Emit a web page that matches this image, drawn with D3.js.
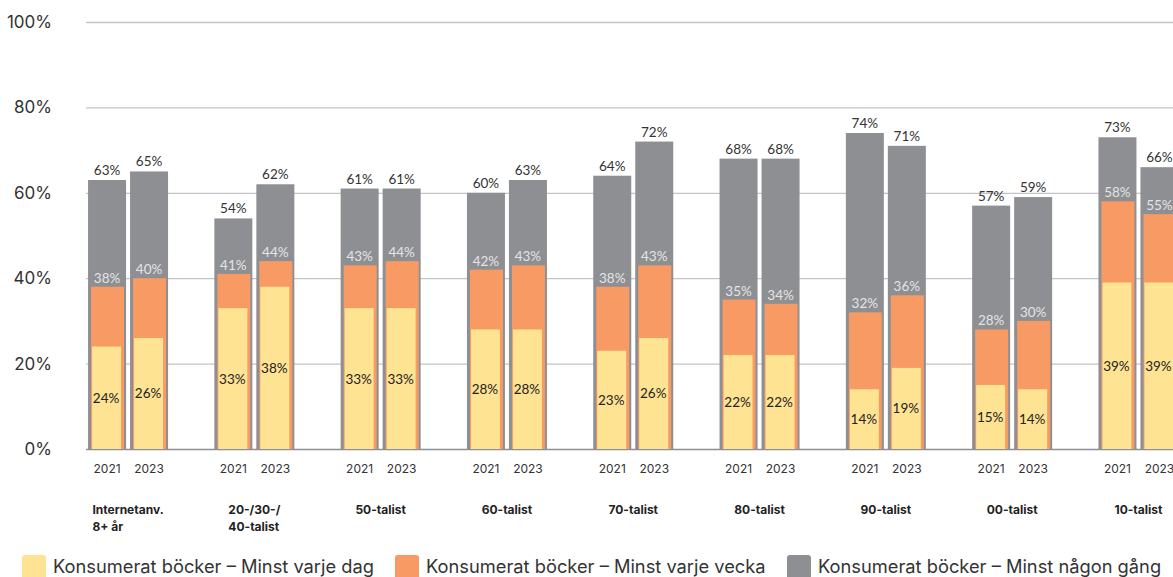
<!DOCTYPE html>
<html><head><meta charset="utf-8">
<script src="https://cdn.jsdelivr.net/npm/d3@7/dist/d3.min.js"></script>
<style>
body{margin:0;background:#fff;}
svg{display:block;font-family:"Lato","Open Sans",sans-serif;}
</style></head>
<body><svg id="c" width="1173" height="577"></svg>
<script>
const groups = ["Internetanv.|8+ år","20-/30-/|40-talist","50-talist","60-talist","70-talist","80-talist","90-talist","00-talist","10-talist"];
const years = ["2021","2023"];
const nagon2021 = [63,54,61,60,64,68,74,57,73];
const nagon2023 = [65,62,61,63,72,68,71,59,66];
const vecka2021 = [38,41,43,42,38,35,32,28,58];
const vecka2023 = [40,44,44,43,43,34,36,30,55];
const dag2021 = [24,33,33,28,23,22,14,15,39];
const dag2023 = [26,38,33,28,26,22,19,14,39];
const yTicks = [0,20,40,60,80,100];
const legendLabels = ["Konsumerat böcker – Minst varje dag","Konsumerat böcker – Minst varje vecka","Konsumerat böcker – Minst någon gång"];
const colors = {dag:"#fee392", vecka:"#f79a63", nagon:"#8d8f93"};

const svg = d3.select("#c");
const y = d3.scaleLinear().domain([0,100]).range([449,22]);
const x0 = d3.scaleBand().domain(groups).range([64.9, 64.9+9*126.3]).padding(0);
const x1 = d3.scaleBand().domain(years).range([x0.bandwidth()/2-40, x0.bandwidth()/2+40]).paddingInner(0.0952).paddingOuter(0);

// gridlines
svg.append("g").selectAll("line").data(yTicks).join("line")
  .attr("x1",86).attr("x2",1173)
  .attr("y1",d=>y(d)+0.5).attr("y2",d=>y(d)+0.5)
  .attr("stroke",d=>d===0?"#8d8f93":"#c4c4c8").attr("stroke-width",d=>d===0?1.5:1.3);
svg.append("g").selectAll("text").data(yTicks).join("text")
  .attr("x",52).attr("y",d=>y(d)+6).attr("text-anchor","end")
  .attr("font-size",17).attr("fill","#333").attr("font-family","Inter, sans-serif")
  .text(d=>d+"%");

const rows = [];
groups.forEach((g,i)=>{
  rows.push({g,yr:"2021",n:nagon2021[i],v:vecka2021[i],d:dag2021[i]});
  rows.push({g,yr:"2023",n:nagon2023[i],v:vecka2023[i],d:dag2023[i]});
});
const bx = r => x0(r.g)+x1(r.yr);
const bw = x1.bandwidth();
const bars = svg.append("g");
bars.selectAll(".n").data(rows).join("rect")
  .attr("x",bx).attr("width",bw).attr("y",r=>y(r.n)).attr("height",r=>y(0)-y(r.n)).attr("fill",colors.nagon);
bars.selectAll(".v").data(rows).join("rect")
  .attr("x",r=>bx(r)+3).attr("width",bw-5).attr("y",r=>y(r.v)).attr("height",r=>y(0)-y(r.v)).attr("fill",colors.vecka);
bars.selectAll(".d").data(rows).join("rect")
  .attr("x",r=>bx(r)+4).attr("width",bw-9).attr("y",r=>y(r.d)).attr("height",r=>y(0)-y(r.d)).attr("fill",colors.dag);

const labels = svg.append("g").attr("font-size",13.5).attr("text-anchor","middle");
labels.selectAll(".ln").data(rows).join("text")
  .attr("x",r=>bx(r)+bw/2).attr("y",r=>y(r.n)-5).attr("fill","#333").text(r=>r.n+"%");
labels.selectAll(".lv").data(rows).join("text")
  .attr("x",r=>bx(r)+bw/2).attr("y",r=>y(r.v)-4).attr("fill","#e4e4e6").text(r=>r.v+"%");
labels.selectAll(".ld").data(rows).join("text")
  .attr("x",r=>bx(r)+bw/2-1).attr("y",r=>(y(r.d)+y(0))/2+5).attr("fill","#222").text(r=>r.d+"%");

// year labels
svg.append("g").selectAll("text").data(rows).join("text")
  .attr("x",r=>bx(r)+bw/2).attr("y",473).attr("text-anchor","middle")
  .attr("font-size",12).attr("fill","#333").attr("font-family","Inter, sans-serif").text(r=>r.yr);

// group labels (block centered, lines left-aligned)
const gl = svg.append("g").selectAll("text").data(groups).join("text")
  .attr("font-size",12).attr("font-weight","bold").attr("fill","#222").attr("font-family","Inter, sans-serif")
  .attr("y",514);
gl.each(function(d){
  const t = d3.select(this);
  const parts=d.split("|");
  t.selectAll("tspan").data(parts).join("tspan")
    .attr("x",0).attr("dy",(p,i)=>i?17:0).text(p=>p);
  let w=0; t.selectAll("tspan").each(function(){ w=Math.max(w,this.getComputedTextLength()); });
  const cx = x0(d)+x0.bandwidth()/2;
  t.selectAll("tspan").attr("x",cx-w/2);
});

// legend
const lx = [22,395,787];
const lc = [colors.dag,colors.vecka,colors.nagon];
const leg = svg.append("g");
leg.selectAll("rect").data(legendLabels).join("rect")
  .attr("x",(d,i)=>lx[i]).attr("y",555).attr("width",24).attr("height",24).attr("rx",3).attr("fill",(d,i)=>lc[i]);
leg.selectAll("text").data(legendLabels).join("text")
  .attr("x",(d,i)=>lx[i]+31).attr("y",573).attr("font-size",18.3).attr("fill","#333")
  .attr("font-family","Inter, sans-serif").text(d=>d);
</script></body></html>
